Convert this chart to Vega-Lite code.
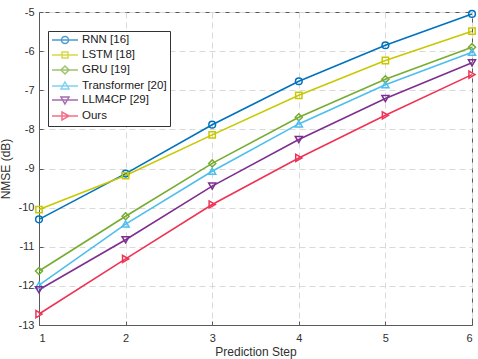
{
  "$schema": "https://vega.github.io/schema/vega-lite/v6.json",
  "width": 433,
  "height": 313,
  "autosize": {"type": "none"},
  "padding": {"left": 39, "top": 12, "right": 6, "bottom": 34},
  "background": "white",
  "config": {
    "font": "Liberation Sans",
    "view": {"stroke": "#5a5a5a", "strokeWidth": 1},
    "axis": {
      "labelFont": "Liberation Sans",
      "titleFont": "Liberation Sans",
      "labelFontSize": 11,
      "titleFontSize": 12,
      "titleFontWeight": "normal",
      "labelColor": "#303030",
      "titleColor": "#303030",
      "domainColor": "#5a5a5a",
      "tickColor": "#5a5a5a",
      "gridColor": "#d9d9d9",
      "gridDash": [6, 4],
      "gridWidth": 1
    },
    "legend": {
      "orient": "none",
      "legendX": 9,
      "legendY": 19,
      "fillColor": "white",
      "strokeColor": "#333333",
      "padding": 3,
      "labelFont": "Liberation Sans",
      "labelFontSize": 11.5,
      "labelColor": "#202020",
      "symbolSize": 100,
      "symbolOffset": 8,
      "symbolStrokeWidth": 1.5,
      "symbolFillColor": "transparent",
      "rowPadding": 2,
      "labelOffset": 11
    }
  },
  "data": {
    "values": [
      {"model": "RNN [16]", "step": 1, "nmse": -10.3},
      {"model": "RNN [16]", "step": 2, "nmse": -9.13},
      {"model": "RNN [16]", "step": 3, "nmse": -7.88},
      {"model": "RNN [16]", "step": 4, "nmse": -6.77},
      {"model": "RNN [16]", "step": 5, "nmse": -5.85},
      {"model": "RNN [16]", "step": 6, "nmse": -5.05},
      {"model": "LSTM [18]", "step": 1, "nmse": -10.05},
      {"model": "LSTM [18]", "step": 2, "nmse": -9.18},
      {"model": "LSTM [18]", "step": 3, "nmse": -8.14},
      {"model": "LSTM [18]", "step": 4, "nmse": -7.13},
      {"model": "LSTM [18]", "step": 5, "nmse": -6.24},
      {"model": "LSTM [18]", "step": 6, "nmse": -5.49},
      {"model": "GRU [19]", "step": 1, "nmse": -11.62},
      {"model": "GRU [19]", "step": 2, "nmse": -10.22},
      {"model": "GRU [19]", "step": 3, "nmse": -8.87},
      {"model": "GRU [19]", "step": 4, "nmse": -7.69},
      {"model": "GRU [19]", "step": 5, "nmse": -6.72},
      {"model": "GRU [19]", "step": 6, "nmse": -5.9},
      {"model": "Transformer [20]", "step": 1, "nmse": -11.98},
      {"model": "Transformer [20]", "step": 2, "nmse": -10.42},
      {"model": "Transformer [20]", "step": 3, "nmse": -9.07},
      {"model": "Transformer [20]", "step": 4, "nmse": -7.86},
      {"model": "Transformer [20]", "step": 5, "nmse": -6.86},
      {"model": "Transformer [20]", "step": 6, "nmse": -6.03},
      {"model": "LLM4CP [29]", "step": 1, "nmse": -12.1},
      {"model": "LLM4CP [29]", "step": 2, "nmse": -10.82},
      {"model": "LLM4CP [29]", "step": 3, "nmse": -9.45},
      {"model": "LLM4CP [29]", "step": 4, "nmse": -8.26},
      {"model": "LLM4CP [29]", "step": 5, "nmse": -7.21},
      {"model": "LLM4CP [29]", "step": 6, "nmse": -6.3},
      {"model": "Ours", "step": 1, "nmse": -12.72},
      {"model": "Ours", "step": 2, "nmse": -11.31},
      {"model": "Ours", "step": 3, "nmse": -9.92},
      {"model": "Ours", "step": 4, "nmse": -8.73},
      {"model": "Ours", "step": 5, "nmse": -7.64},
      {"model": "Ours", "step": 6, "nmse": -6.6}
    ]
  },
  "encoding": {
    "x": {
      "field": "step", "type": "quantitative",
      "scale": {"domain": [1, 6], "nice": false, "zero": false},
      "axis": {"values": [1, 2, 3, 4, 5, 6], "title": "Prediction Step", "tickSize": -4, "labelPadding": 11, "titlePadding": 3, "grid": true}
    },
    "y": {
      "field": "nmse", "type": "quantitative",
      "scale": {"domain": [-13, -5], "nice": false, "zero": false},
      "axis": {"values": [-13, -12, -11, -10, -9, -8, -7, -6, -5], "title": "NMSE (dB)", "tickSize": -4, "labelPadding": 9, "titlePadding": 6, "grid": true, "labelExpr": "datum.value + ''"}
    },
    "color": {
      "field": "model", "type": "nominal",
      "sort": ["RNN [16]", "LSTM [18]", "GRU [19]", "Transformer [20]", "LLM4CP [29]", "Ours"],
      "scale": {
        "domain": ["RNN [16]", "LSTM [18]", "GRU [19]", "Transformer [20]", "LLM4CP [29]", "Ours"],
        "range": ["#0072BD", "#C8C800", "#77AC30", "#4DBEEE", "#7E2F8E", "#EE3355"]
      },
      "legend": {"title": null}
    }
  },
  "layer": [
    {
      "mark": {"type": "line", "strokeWidth": 1.6},
      "encoding": {"detail": {"field": "model"}}
    },
    {
      "transform": [{"filter": "false"}],
      "mark": {"type": "point", "filled": false, "strokeWidth": 1.5},
      "encoding": {
        "shape": {
          "field": "model", "type": "nominal",
          "scale": {
            "domain": ["RNN [16]", "LSTM [18]", "GRU [19]", "Transformer [20]", "LLM4CP [29]", "Ours"],
            "range": [
              "M-2.6,0H2.6M0.7,0A0.7,0.7,0,1,1,-0.7,0A0.7,0.7,0,1,1,0.7,0",
              "M-2.6,0H2.6M-0.6,-0.6H0.6V0.6H-0.6Z",
              "M-2.6,0H2.6M0,-0.8L0.8,0L0,0.8L-0.8,0Z",
              "M-2.6,0H2.6M0,-0.8L0.8,0.6L-0.8,0.6Z",
              "M-2.6,0H2.6M0,0.8L0.8,-0.6L-0.8,-0.6Z",
              "M-2.6,0H2.6M0.8,0L-0.6,-0.8L-0.6,0.8Z"
            ]
          },
          "legend": {"title": null}
        }
      }
    },
    {
      "transform": [{"filter": "datum.model === 'RNN [16]'"}],
      "mark": {"type": "point", "shape": "circle", "filled": false, "strokeWidth": 1.5, "size": 45, "opacity": 1}
    },
    {
      "transform": [{"filter": "datum.model === 'LSTM [18]'"}],
      "mark": {"type": "point", "shape": "square", "filled": false, "strokeWidth": 1.5, "size": 40, "opacity": 1}
    },
    {
      "transform": [{"filter": "datum.model === 'GRU [19]'"}],
      "mark": {"type": "point", "shape": "diamond", "filled": false, "strokeWidth": 1.5, "size": 50, "opacity": 1}
    },
    {
      "transform": [{"filter": "datum.model === 'Transformer [20]'"}],
      "mark": {"type": "point", "shape": "triangle-up", "filled": false, "strokeWidth": 1.5, "size": 50, "opacity": 1}
    },
    {
      "transform": [{"filter": "datum.model === 'LLM4CP [29]'"}],
      "mark": {"type": "point", "shape": "triangle-down", "filled": false, "strokeWidth": 1.5, "size": 50, "opacity": 1}
    },
    {
      "transform": [{"filter": "datum.model === 'Ours'"}],
      "mark": {"type": "point", "shape": "triangle-right", "filled": false, "strokeWidth": 1.5, "size": 50, "opacity": 1}
    }
  ]
}
